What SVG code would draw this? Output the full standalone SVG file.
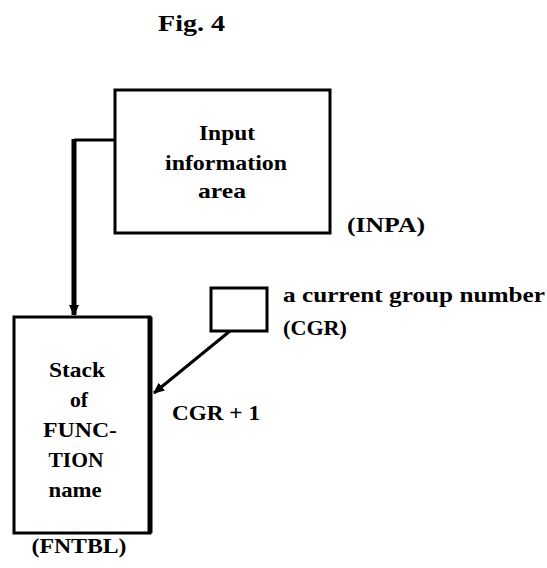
<svg xmlns="http://www.w3.org/2000/svg" width="547" height="568" viewBox="0 0 547 568">
<style>
.box{fill:none;stroke:#000;stroke-width:3}
.t{font-family:"Liberation Serif",serif;font-weight:bold;font-size:21px;fill:#000}
.c{text-anchor:middle}
.ln{fill:none;stroke:#000;stroke-width:3}
</style>
<defs>
<marker id="ah" markerWidth="12" markerHeight="12" refX="10" refY="6" orient="auto" markerUnits="userSpaceOnUse">
<path d="M0,1 L11,6 L0,11 Z" fill="#000"/>
</marker>
</defs>
<rect width="547" height="568" fill="#fff"/>
<text class="t" x="158" y="31" style="font-size:24px" textLength="67" lengthAdjust="spacingAndGlyphs">Fig. 4</text>
<g id="inpa">
<rect class="box" x="115" y="90" width="215" height="143"/>
<text class="t c" x="227" y="140" textLength="56" lengthAdjust="spacingAndGlyphs">Input</text>
<text class="t c" x="226" y="170" textLength="122" lengthAdjust="spacingAndGlyphs">information</text>
<text class="t c" x="222" y="198" textLength="48" lengthAdjust="spacingAndGlyphs">area</text>
<text class="t" x="347" y="232" textLength="78" lengthAdjust="spacingAndGlyphs">(INPA)</text>
</g>
<g id="fntbl">
<rect class="box" x="14" y="317" width="136" height="216"/>
<path d="M150,317 V533" stroke="#000" stroke-width="5" fill="none"/>
<text class="t c" x="77" y="377" textLength="56" lengthAdjust="spacingAndGlyphs">Stack</text>
<text class="t c" x="79" y="407" textLength="18" lengthAdjust="spacingAndGlyphs">of</text>
<text class="t c" x="80" y="437" textLength="74" lengthAdjust="spacingAndGlyphs">FUNC-</text>
<text class="t c" x="76" y="467" textLength="55" lengthAdjust="spacingAndGlyphs">TION</text>
<text class="t c" x="75" y="497" textLength="53" lengthAdjust="spacingAndGlyphs">name</text>
<text class="t c" x="79" y="553" textLength="95" lengthAdjust="spacingAndGlyphs">(FNTBL)</text>
</g>
<g id="cgr">
<rect class="box" x="211" y="288" width="56" height="43"/>
<text class="t" x="283" y="302" textLength="262" lengthAdjust="spacingAndGlyphs">a current group number</text>
<text class="t" x="283" y="335" textLength="64" lengthAdjust="spacingAndGlyphs">(CGR)</text>
</g>
<g id="connectors">
<path class="ln" d="M115,140 H74" />
<path d="M74,139 V315" stroke="#000" stroke-width="5" fill="none" marker-end="url(#ah)"/>
<path class="ln" d="M230,331 L154,393" marker-end="url(#ah)"/>
</g>
<text class="t" x="172" y="420" textLength="88" lengthAdjust="spacingAndGlyphs">CGR + 1</text>
</svg>
